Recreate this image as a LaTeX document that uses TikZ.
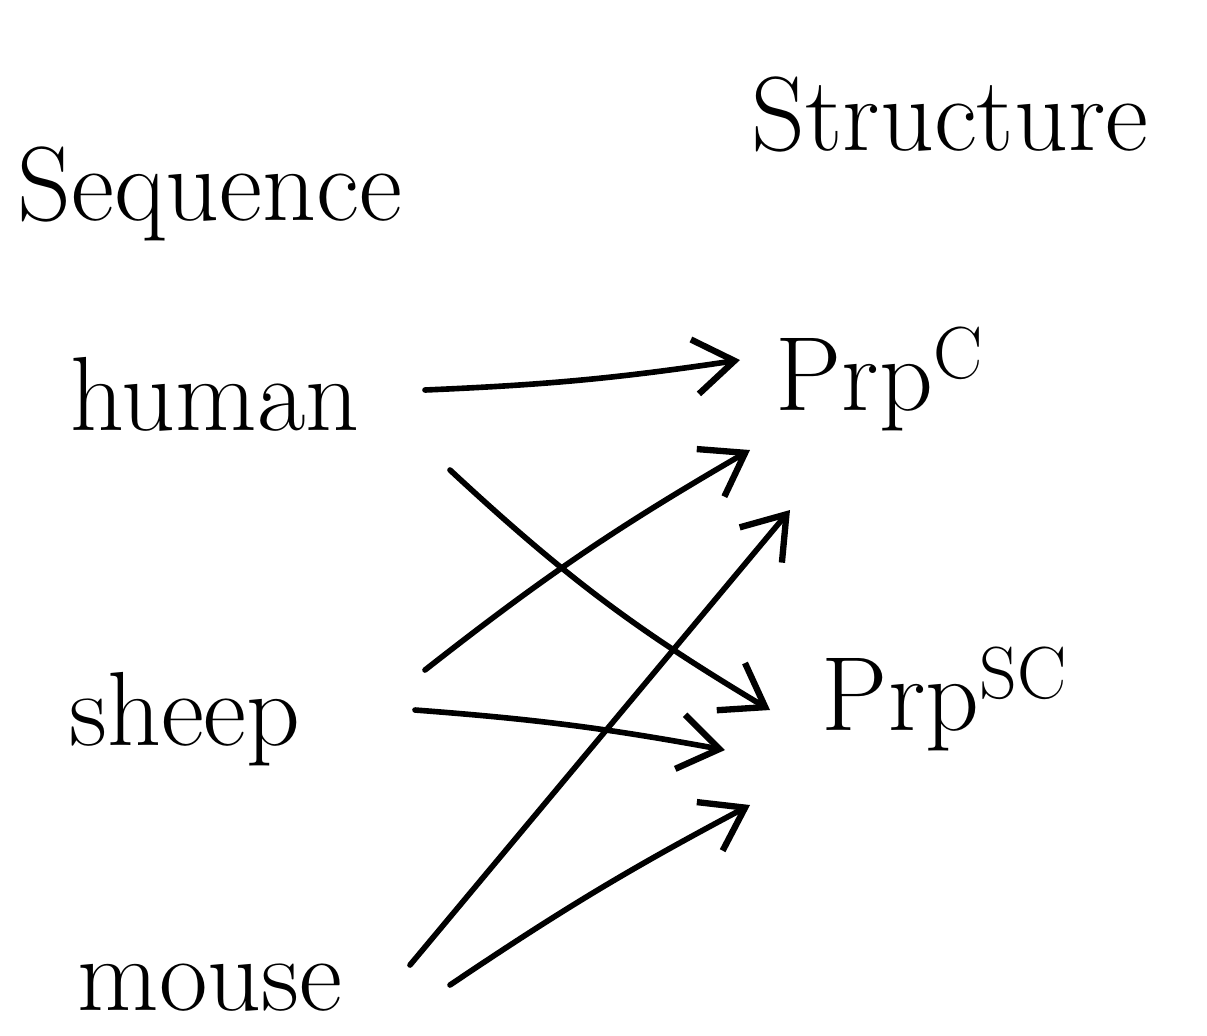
\documentclass[tikz,border=0pt]{standalone}
\usetikzlibrary{arrows.meta}
\begin{document}
\begin{tikzpicture}[
  label/.style={font=\fontsize{30}{36}\selectfont, inner sep=0pt, anchor=base},
  arr/.style={line width=1.6pt, line cap=round,
    -{Straight Barb[length=4mm,width=5.5mm,line width=1.8pt]}}
]
\useasboundingbox (0,0) rectangle (12.07,10.35);

% column headings
\node[label] (seq) at (2.1,8.15) {Sequence};
\node[label] (str) at (9.5,8.85) {Structure};

% species
\node[label] (human) at (2.15,6.05) {human};
\node[label] (sheep) at (1.85,2.9) {sheep};
\node[label] (mouse) at (2.1,0.25) {mouse};

% protein forms
\node[label] (prpc) at (8.8,6.25) {Prp\textsuperscript{C}};
\node[label] (prpsc) at (9.45,3.05) {Prp\textsuperscript{SC}};

% sequence -> structure
\draw[arr] ([shift={(2.1,0.4)}]human.base) to[bend right=3] ([shift={(-1.4,0.5)}]prpc.base);
\draw[arr] ([shift={(2.35,-0.4)}]human.base) to[bend right=6] ([shift={(-1.75,0.2)}]prpsc.base);
\draw[arr] ([shift={(2.4,0.75)}]sheep.base) to[bend left=4] ([shift={(-1.3,-0.4)}]prpc.base);
\draw[arr] ([shift={(2.3,0.35)}]sheep.base) to[bend left=3] ([shift={(-2.2,-0.2)}]prpsc.base);
\draw[arr] ([shift={(2.0,0.45)}]mouse.base) -- ([shift={(-0.9,-1.0)}]prpc.base);
\draw[arr] ([shift={(2.4,0.25)}]mouse.base) to[bend left=3] ([shift={(-1.95,-0.75)}]prpsc.base);
\end{tikzpicture}
\end{document}
